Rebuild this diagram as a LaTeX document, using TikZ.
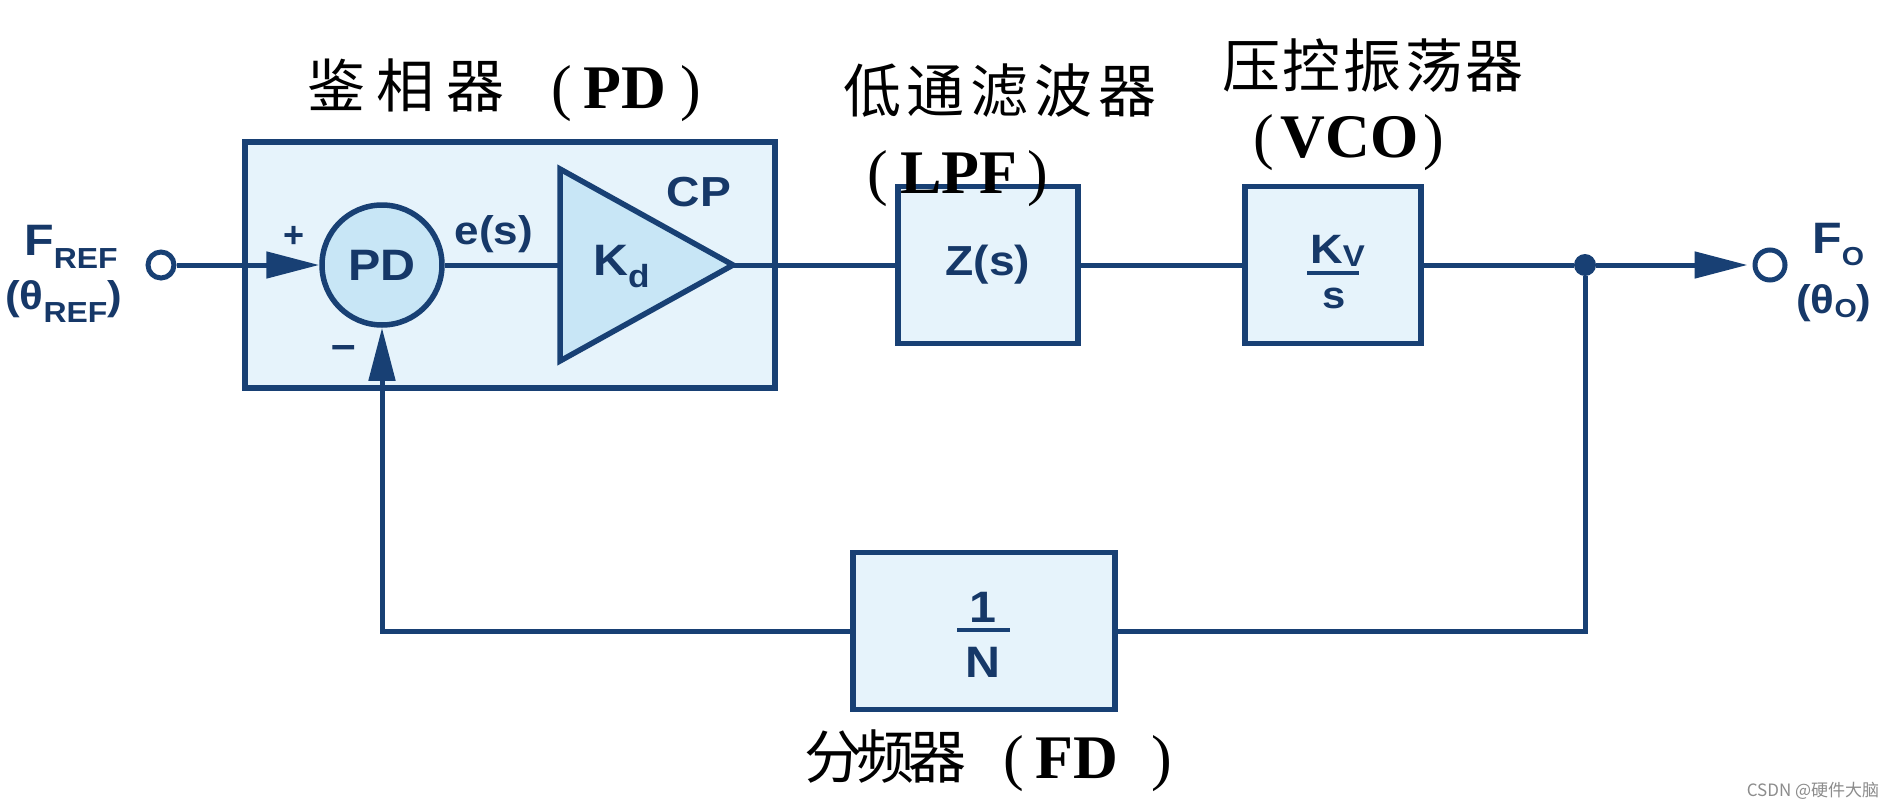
\documentclass[tikz,border=0pt]{standalone}
\usepackage{fontspec}
\usepackage{graphicx}
\setmainfont{Liberation Sans}
\newfontfamily\cjk{Noto Sans CJK SC}
\newfontfamily\serf{Liberation Serif}
\usetikzlibrary{arrows.meta}
\definecolor{navy}{RGB}{24,64,116}
\definecolor{navytext}{RGB}{22,56,104}
\definecolor{boxfill}{RGB}{230,243,251}
\definecolor{circfill}{RGB}{200,230,246}
\definecolor{wmgray}{RGB}{140,140,140}
\newcommand{\sx}[1]{\scalebox{1.1}[1]{#1}}
\newcommand{\fs}[1]{\fontsize{#1}{#1}\selectfont}
\begin{document}
\begin{tikzpicture}[x=1pt,y=-1pt,
  lab/.style={text=navytext, font=\fs{44}\bfseries, inner sep=0pt, anchor=base},
  blockbox/.style={draw=navy, line width=5.5pt, fill=boxfill, inner sep=0pt},
  wire/.style={draw=navy, line width=5pt},
  bigarrow/.style={-{Triangle[length=53pt,width=26pt]}},
  ttlcn/.style={font=\cjk\fs{58}, text=black, inner sep=0pt, anchor=base},
  ttlen/.style={font=\serf\fs{62}, text=black, inner sep=0pt, anchor=base},
  port/.style={circle, draw=navy, line width=5pt, fill=white, minimum size=26pt, inner sep=0pt},
]
\fill[white] (0,0) rectangle (1896,808);
\useasboundingbox (0,0) rectangle (1896,808);

% phase detector group
\node[blockbox, minimum width=530pt, minimum height=246pt] (pdbox) at (510,265) {};
\node[circle, draw=navy, line width=5.5pt, fill=circfill, minimum size=120pt, inner sep=0pt,
      text=navytext, font=\fs{44}\bfseries] (pd) at (382,265) {\sx{PD}};
\draw[navy, line width=5.5pt, fill=circfill, line join=miter]
  (560,169) coordinate (ta) -- (733,265) coordinate (kdout) -- (560,361) coordinate (tb) -- cycle;
\coordinate (kdin) at (560,265);
\node[lab, font=\fs{40}\bfseries] (es) at (494,244) {\sx{e(s)}};
\node[lab, font=\fs{42}\bfseries] (cp) at (699,206) {\sx{CP}};
\node[lab, anchor=base west] (kd) at (593,275) {\sx{K\raisebox{-12pt}{\fs{32}d}}};
\node[lab, font=\fs{36}\bfseries] (plus) at (294,247) {+};
\node[lab] (minus) at (344,359) {\textendash};

% LPF
\node[blockbox, minimum width=180pt, minimum height=157pt] (lpf) at (988,265) {};
\node[lab, font=\fs{42}\bfseries] (zs) at (988,275) {\sx{Z(s)}};

% VCO
\node[blockbox, minimum width=176pt, minimum height=157pt] (vco) at (1333,265) {};
\node[lab, anchor=base west, font=\fs{41}\bfseries] (kv) at (1310,263) {\sx{K\raisebox{-3pt}{\fs{30}V}}};
\draw[navy, line width=4pt] (1307,273) -- (1359,273);
\node[lab, font=\fs{38}\bfseries] (vs) at (1334,308) {\sx{s}};

% divider
\node[blockbox, minimum width=262pt, minimum height=157pt] (fd) at (984,631) {};
\node[lab] (one) at (983,622) {\sx{1}};
\draw[navy, line width=4pt] (957,630) -- (1010,630);
\node[lab] (nn) at (983,677) {\sx{N}};

% ports and junction
\node[port] (fin) at (161,265) {};
\node[port, minimum size=30pt] (fout) at (1770,265) {};
\node[circle, fill=navy, minimum size=22pt, inner sep=0pt] (junc) at (1585,265) {};

% wires
\draw[wire, bigarrow] (fin) -- (pd);
\draw[wire] (pd) -- (kdin);
\draw[wire] (kdout) -- (lpf);
\draw[wire] (lpf) -- (vco);
\draw[wire] (vco) -- (junc);
\draw[wire, bigarrow, shorten >=5pt] (junc) -- (fout);
\draw[wire] (junc) |- (fd);
\draw[wire, bigarrow] (fd) -| (pd);

% port labels
\node[lab, anchor=base west] (fref) at (24,255) {\sx{F\raisebox{-13pt}{\fs{29}REF}}};
\node[lab, anchor=base west, font=\fs{40}\bfseries] (tref) at (5,309) {\sx{(θ\raisebox{-13pt}{\fs{29}REF})}};
\node[lab, anchor=base west] (fo) at (1812,253) {\sx{F\raisebox{-12pt}{\fs{26}O}}};
\node[lab, anchor=base west, font=\fs{40}\bfseries] (to) at (1796,313) {\sx{(θ\raisebox{-4pt}{\fs{26}O})}};

% titles
\node[ttlcn] (t1a) at (406,107) {鉴\hspace{12pt}相\hspace{12pt}器};
\node[ttlen] (t1b) at (626,108) {(\hspace{12pt}\textbf{PD}\hspace{14pt})};
\node[ttlcn] (t2a) at (1000,112) {低\hspace{6pt}通\hspace{6pt}滤\hspace{6pt}波\hspace{6pt}器};
\node[ttlen] (t2b) at (958,193) {(\hspace{12pt}\textbf{LPF}\hspace{10pt})};
\node[ttlcn] (t3a) at (1373,88) {压\hspace{3pt}控\hspace{3pt}振\hspace{3pt}荡\hspace{3pt}器};
\node[ttlen] (t3b) at (1349,157) {(\hspace{6pt}\textbf{VCO}\hspace{5pt})};
\node[ttlcn] (t4a) at (885,778) {分\hspace{-6pt}频\hspace{-6pt}器};
\node[ttlen] (t4b) at (1088,778) {(\hspace{11pt}\textbf{FD}\hspace{34pt})};

% watermark
\node[font=\cjk\fs{17}, text=wmgray, inner sep=0pt] (wm) at (1813,791) {CSDN @硬件大脑};
\end{tikzpicture}
\end{document}
